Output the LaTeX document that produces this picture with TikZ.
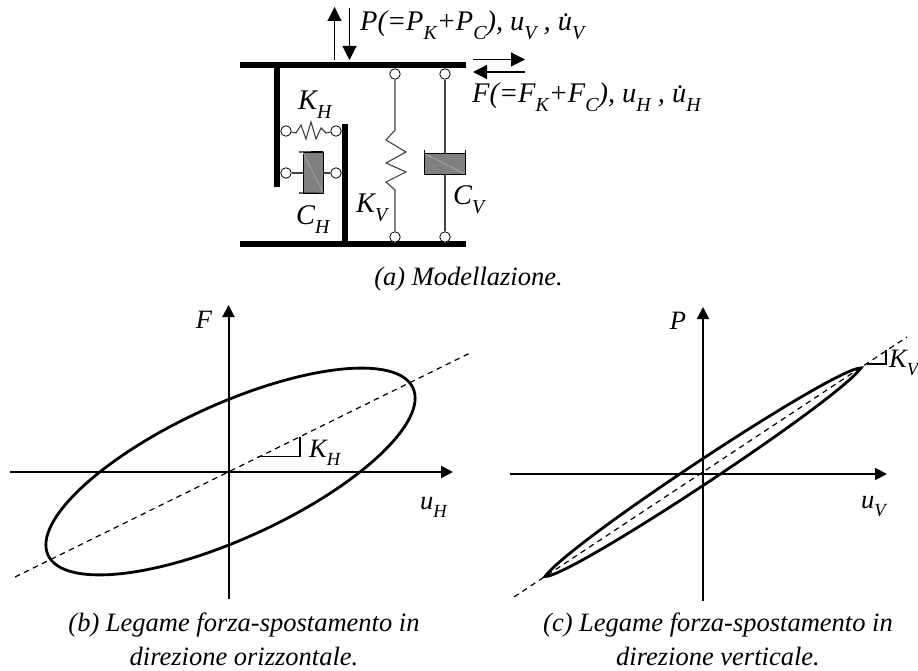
\documentclass[tikz,border=0pt]{standalone}
\usepackage{fontspec}
\setmainfont{Liberation Serif}
\usetikzlibrary{arrows.meta}
\newcommand{\lowsub}[2]{\textit{#1}\raisebox{-0.3em}{\fontsize{\the\dimexpr0.7\fontdimen6\font\relax}{16}\selectfont\textit{#2}}}
\tikzset{
    hinge/.style={circle, draw=black, fill=white, line width=0.8pt, minimum size=10.5pt, inner sep=0pt},
    thinlink/.style={draw=black!75, line width=1.1pt},
    plate/.style={black, line width=5.5pt},
    axisline/.style={black, line width=2pt, -{Triangle[length=12pt, width=12pt]}},
    forcearrow/.style={black, line width=1.1pt, -{Triangle[length=14pt, width=14pt]}},
    slopeline/.style={black, line width=1.2pt, dash pattern=on 5.5pt off 4.5pt},
    bigtext/.style={font=\fontsize{28.4}{34}\selectfont\itshape, inner sep=0pt},
    smalltext/.style={font=\fontsize{26.5}{34.5}\selectfont\itshape, inner sep=0pt, align=center},
}
\begin{document}
\begin{tikzpicture}[x=1pt, y=-1pt]
    \useasboundingbox (0,0) rectangle (918,671);

    % piastre del modello
    \draw[plate] (240,65) -- (466,65);
    \draw[plate] (240,244) -- (466,244);
    \draw[plate] (277,65) -- (277,187);
    \draw[plate] (345,124) -- (345,244);

    % cerniere
    \foreach \name/\px/\py in {kha/286/131, khb/336/131, cha/286/173, chb/336/173,
        kva/395/74, kvb/395/237, cva/445/74, cvb/445/237}{
        \node[hinge] (\name) at (\px,\py) {};
    }

    % molla e smorzatore orizzontali
    \draw[thinlink] (kha) -- (296,133) -- (301,125) -- (306,139) -- (311,122) -- (316,139) -- (321,128) -- (326,133) -- (khb);
    \node[draw=black, fill=black!50, line width=0.8pt, minimum width=20pt, minimum height=41pt, inner sep=0pt] (chbox) at (313,172.5) {};
    \draw[white!75!black, line width=0.4pt] (chbox.north west) -- (chbox.south east);
    \draw[black, line width=1.1pt] (299,152) -- (chbox.north east);
    \draw[black, line width=1.1pt] (299,193) -- (chbox.south east);
    \draw[thinlink] (cha) -- (cha -| chbox.west);
    \draw[thinlink] (chb) -- (chb -| chbox.east);

    % molla verticale
    \draw[thinlink] (kva) -- (395,130) -- (386,140) -- (406,152) -- (386,163) -- (406,172) -- (386,182) -- (395,190) -- (kvb);

    % smorzatore verticale
    \node[fill=black!50, minimum width=40pt, minimum height=20pt, inner sep=0pt] (cvbox) at (445,164) {};
    \draw[white!75!black, line width=0.4pt] (cvbox.north west) -- (cvbox.south east);
    \draw[black, line width=1.1pt] (cvbox.west) ++(0,-14) -- (cvbox.south west) -- (cvbox.south east) -- ++(0,-24);
    \draw[black, line width=1.1pt] (cvbox.north west) -- (cvbox.north east);
    \draw[thinlink] (cva) -- (cvbox.north);
    \draw[thinlink] (cvbox.south) -- (cvb);

    % frecce delle forze
    \coordinate (upa) at (334.5,60);
    \coordinate (upb) at (334.5,7);
    \coordinate (dna) at (349.5,8);
    \coordinate (dnb) at (349.5,60);
    \coordinate (rta) at (473,59.5);
    \coordinate (rtb) at (525,59.5);
    \coordinate (lfa) at (525,72);
    \coordinate (lfb) at (473,72);
    \draw[forcearrow] (upa) -- (upb);
    \draw[forcearrow] (dna) -- (dnb);
    \draw[forcearrow] (rta) -- (rtb);
    \draw[forcearrow] (lfa) -- (lfb);

    % etichette del modello
    \node[bigtext, anchor=base west] (ptext) at (360,31) {P(=\lowsub{P}{K}+\lowsub{P}{C}), \lowsub{u}{V} , \lowsub{\.u}{V}};
    \node[bigtext, anchor=base west] (ftext) at (472,103) {F(=\lowsub{F}{K}+\lowsub{F}{C}), \lowsub{u}{H} , \lowsub{\.u}{H}};
    \node[bigtext, anchor=base west] (khtext) at (298,110) {\lowsub{K}{H}};
    \node[bigtext, anchor=base west] (chtext) at (296,225) {\lowsub{C}{H}};
    \node[bigtext, anchor=base west] (kvtext) at (356,213) {\lowsub{K}{V}};
    \node[bigtext, anchor=base west] (cvtext) at (453,205) {\lowsub{C}{V}};
    \node[smalltext, anchor=base] (capa) at (468.5,285) {(a) Modellazione.};

    % legame orizzontale
    \coordinate (hxa) at (10,472);
    \coordinate (hxb) at (453,472);
    \coordinate (hya) at (228.5,599);
    \coordinate (hyb) at (228.5,305);
    \draw[axisline] (hxa) -- (hxb);
    \draw[axisline] (hya) -- (hyb);
    \coordinate (hda) at (15,577);
    \coordinate (hdb) at (470,353);
    \draw[slopeline] (hda) -- (hdb);
    \draw[black, line width=2.8pt, rotate around={24.6:(230.5,471.5)}] (230.5,471.5) ellipse (200.7pt and 67pt);
    \draw[black, line width=1.1pt] (258,456.5) -- (300,456.5) -- (300,436.5);
    \node[smalltext, anchor=west] (khlab) at (309,453) {\lowsub{K}{H}};
    \node[smalltext, anchor=west] (uhlab) at (420,507) {\lowsub{u}{H}};
    \node[smalltext] (flab) at (204,320) {F};
    \node[smalltext] (capb) at (244,639.5) {(b) Legame forza-spostamento in\\direzione orizzontale.};

    % legame verticale
    \coordinate (vxa) at (510,474);
    \coordinate (vxb) at (887,474);
    \coordinate (vya) at (703,601);
    \coordinate (vyb) at (703,307);
    \draw[axisline] (vxa) -- (vxb);
    \draw[axisline] (vya) -- (vyb);
    \coordinate (vda) at (514,597);
    \coordinate (vdb) at (907,337);
    \draw[slopeline] (vda) -- (vdb);
    \coordinate (tipa) at (545,576.5);
    \coordinate (tipb) at (861,368);
    \draw[black, line width=2.8pt, line join=miter] (tipa) .. controls (570.3,541.4) and (835.7,366.6) .. (tipb)
        .. controls (835.7,402.6) and (570.3,577.4) .. (tipa) -- cycle;
    \draw[black, line width=1.1pt] (867,364) -- (886,364) -- (886,350);
    \node[smalltext, anchor=west] (kvlab) at (889,363) {\lowsub{K}{V}};
    \node[smalltext, anchor=west] (uvlab) at (861,507) {\lowsub{u}{V}};
    \node[smalltext] (plab) at (678,321) {P};
    \node[smalltext] (capc) at (718,639.5) {(c) Legame forza-spostamento in\\direzione verticale.};
\end{tikzpicture}
\end{document}
